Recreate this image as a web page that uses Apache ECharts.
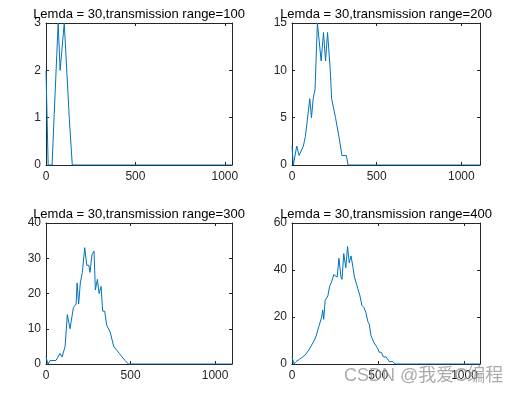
<!DOCTYPE html>
<html>
<head>
<meta charset="utf-8">
<script src="https://cdn.jsdelivr.net/npm/echarts@6/dist/echarts.min.js"></script>
<style>
html,body{margin:0;padding:0;background:#fff;}
#chart{width:521px;height:396px;}
</style>
</head>
<body>
<div id="chart"></div>
<script>
// ---------- data ----------
const titles = [
  "Lemda = 30,transmission range=100",
  "Lemda = 30,transmission range=200",
  "Lemda = 30,transmission range=300",
  "Lemda = 30,transmission range=400"
];
const xTickLabels = [0, 500, 1000];
const xMaxes = [1040, 1110, 1100, 1090];
const yTicks1 = [0, 1, 2, 3];
const yTicks2 = [0, 5, 10, 15];
const yTicks3 = [0, 10, 20, 30, 40];
const yTicks4 = [0, 20, 40, 60];

const x1 = [0, 12, 34, 45, 56, 68, 79, 90, 102, 130, 139, 147, 1040];
const y1 = [2, 0, 0, 1, 1, 3, 2, 2, 3, 1, 1, 0, 0];

const x2 = [0, 8, 28, 42, 53, 67, 79, 88, 105, 115, 125, 136, 150, 172, 186, 198, 210, 226, 234, 245, 257, 267, 277, 285, 295, 321, 331, 1110];
const y2 = [2, 0, 2, 1, 1, 2, 3, 3, 7, 5, 7, 8, 15, 11, 14, 11, 14, 10, 7, 7, 5, 5, 3, 3, 1, 1, 0, 0];

const x3 = [0, 12, 24, 59, 83, 95, 113, 126, 142, 152, 162, 178, 184, 193, 203, 215, 229, 241, 253, 260, 272, 284, 292, 304, 314, 326, 335, 347, 359, 380, 400, 417, 434, 450, 468, 487, 1100];
const y3 = [2, 0, 1, 1, 3, 2, 5, 14, 10, 10, 16, 17, 23, 17, 23, 26, 33, 28, 28, 26, 31, 32, 21, 24, 20, 22, 15, 15, 11, 9, 5, 4, 3, 2, 1, 0, 0];

const x4 = [0, 12, 23, 43, 62, 78, 86, 98, 109, 121, 129, 140, 148, 156, 164, 172, 178, 184, 192, 200, 208, 218, 230, 242, 253, 262, 272, 284, 290, 300, 312, 322, 332, 342, 354, 362, 370, 382, 394, 405, 417, 428, 440, 448, 458, 466, 476, 484, 494, 506, 518, 530, 545, 565, 585, 598, 1090];
const y4 = [3, 0, 1, 2, 3, 4, 4, 6, 6, 9, 10, 12, 14, 16, 16, 20, 23, 19, 27, 28, 29, 33, 35, 38, 38, 37, 45, 37, 36, 47, 41, 50, 43, 46, 41, 37, 37, 32, 29, 25, 24, 22, 18, 17, 12, 12, 9, 9, 7, 5, 5, 3, 3, 1, 1, 0, 0];

const watermark = "CSDN @我爱C编程";

// ---------- layout / style ----------
const FONT = '"Liberation Sans", Arial, sans-serif';
const AX = '#262626';
const LINE = '#0072BD';
const grids = [
  {left: 46, top: 23, width: 186, height: 142},
  {left: 292, top: 23, width: 188, height: 142},
  {left: 46, top: 223, width: 186, height: 141},
  {left: 292, top: 223, width: 188, height: 141}
];
const titleTops = [8, 8, 208, 208];
const xs = [x1, x2, x3, x4];
const ys = [y1, y2, y3, y4];
const yTicks = [yTicks1, yTicks2, yTicks3, yTicks4];

function common() {
  return {
    axisLine: {show: true, onZero: false, lineStyle: {color: AX, width: 1}},
    axisTick: {show: true, inside: true, length: 3, lineStyle: {color: AX, width: 1}},
    splitLine: {show: false}
  };
}

const xAxes = [], yAxes = [], series = [], titleArr = [];
for (let i = 0; i < 4; i++) {
  xAxes.push(Object.assign({
    type: 'value', gridIndex: i, position: 'bottom',
    min: xTickLabels[0], max: xMaxes[i], interval: xTickLabels[1] - xTickLabels[0],
    axisLabel: {show: true, color: AX, fontSize: 12, fontFamily: FONT, margin: 6,
      formatter: v => xTickLabels.includes(v) ? String(v) : ''}
  }, common()));
  xAxes.push(Object.assign({
    type: 'value', gridIndex: i, position: 'top',
    min: xTickLabels[0], max: xMaxes[i], interval: xTickLabels[1] - xTickLabels[0],
    axisLabel: {show: false}
  }, common()));
  const yt = yTicks[i];
  yAxes.push(Object.assign({
    type: 'value', gridIndex: i, position: 'left',
    min: yt[0], max: yt[yt.length - 1], interval: yt[1] - yt[0],
    axisLabel: {show: true, color: AX, fontSize: 12, fontFamily: FONT, margin: 5,
      formatter: v => yt.includes(v) ? String(v) : ''}
  }, common()));
  yAxes.push(Object.assign({
    type: 'value', gridIndex: i, position: 'right',
    min: yt[0], max: yt[yt.length - 1], interval: yt[1] - yt[0],
    axisLabel: {show: false}
  }, common()));
  series.push({
    type: 'line', xAxisIndex: 2 * i, yAxisIndex: 2 * i,
    data: xs[i].map((x, k) => [x, ys[i][k]]),
    showSymbol: false, symbol: 'none',
    lineStyle: {color: LINE, width: 1},
    itemStyle: {color: LINE},
    clip: true, animation: false
  });
  titleArr.push({
    text: titles[i],
    left: grids[i].left + grids[i].width / 2,
    top: titleTops[i],
    textAlign: 'center',
    padding: 0,
    textStyle: {fontSize: 13, fontWeight: 'normal', color: '#000', fontFamily: FONT}
  });
}

const chart = echarts.init(document.getElementById('chart'), null, {renderer: 'canvas'});
chart.setOption({
  backgroundColor: '#fff',
  animation: false,
  title: titleArr,
  grid: grids,
  xAxis: xAxes,
  yAxis: yAxes,
  series: series,
  graphic: [{
    type: 'text',
    left: 344,
    top: 367,
    z: 100,
    style: {
      text: watermark,
      fontSize: 18,
      fontFamily: '"Liberation Sans", "Noto Sans CJK SC", sans-serif',
      fill: 'rgba(150,150,150,0.8)'
    }
  }]
});
</script>
</body>
</html>
